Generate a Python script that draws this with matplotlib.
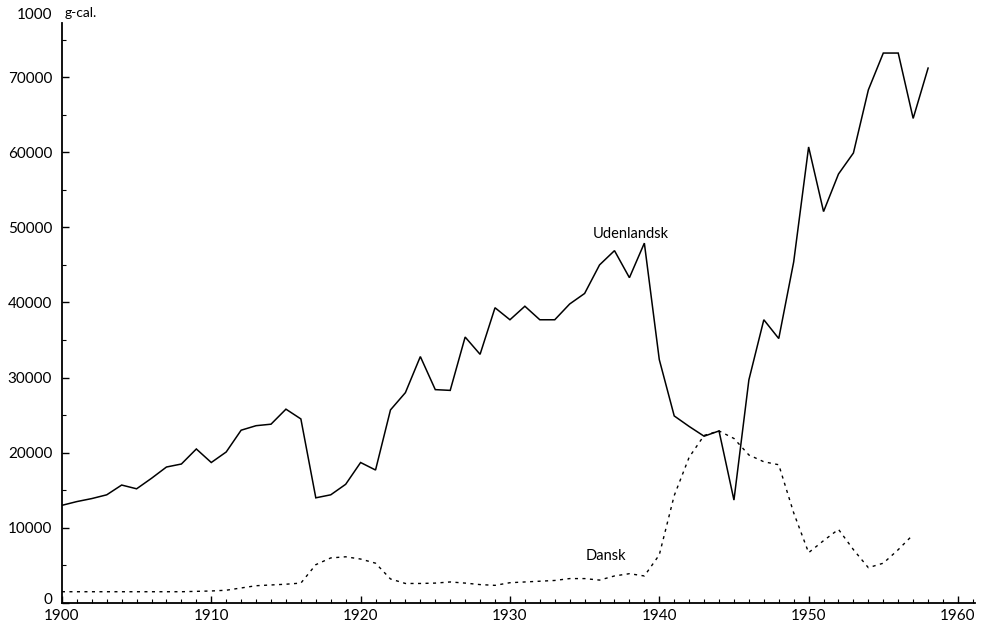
import matplotlib.pyplot as plt
import matplotlib.transforms as mtransforms
from matplotlib.ticker import MultipleLocator

plt.rcParams['font.family'] = ['Lato', 'DejaVu Sans']

# year values, 1000 g-cal.
years_udl = list(range(1900, 1959))
udenlandsk = [
    13000, 13500, 13900, 14400, 15700, 15200, 16600, 18100, 18500, 20500,
    18700, 20100, 23000, 23600, 23800, 25800, 24500, 14000, 14400, 15800,
    18700, 17700, 25700, 28000, 32800, 28400, 28300, 35400, 33100, 39300,
    37700, 39500, 37700, 37700, 39800, 41200, 45000, 46900, 43300, 47900,
    32400, 24900, 23500, 22200, 22900, 13700, 29700, 37700, 35200, 45400,
    60700, 52100, 57100, 59900, 68300, 73200, 73200, 64500, 71200,
]

years_dk = list(range(1900, 1958))
dansk = [
    1500, 1500, 1500, 1500, 1500, 1500, 1500, 1500, 1500, 1550,
    1600, 1700, 2000, 2300, 2400, 2500, 2650, 5100, 6000, 6150,
    5850, 5300, 3200, 2600, 2600, 2650, 2800, 2650, 2450, 2350,
    2700, 2800, 2900, 3000, 3250, 3250, 3050, 3600, 3900, 3600,
    6400, 14300, 19400, 22300, 22900, 21900, 19700, 18800, 18400, 12000,
    6700, 8300, 9800, 7100, 4700, 5300, 7100, 9100,
]

x_ticks = [1900, 1910, 1920, 1930, 1940, 1950, 1960]
y_ticks = [0, 10000, 20000, 30000, 40000, 50000, 60000, 70000]

fig = plt.figure(figsize=(9.83, 6.25), dpi=100)
ax = fig.add_axes([0.063, 0.0352, 0.929, 0.928])

ax.plot(years_udl, udenlandsk, color='black', lw=1.1, solid_joinstyle='miter')
ax.plot(years_dk, dansk, color='black', lw=1.0, linestyle=(0, (2.2, 3.2)))

ax.set_xlim(1900, 1961.15)
ax.set_ylim(0, 77200)

for side in ['top', 'right']:
    ax.spines[side].set_visible(False)
ax.spines['left'].set_linewidth(1.3)
ax.spines['bottom'].set_linewidth(1.3)

ax.set_xticks(x_ticks)
ax.set_yticks(y_ticks)
ax.xaxis.set_minor_locator(MultipleLocator(1))
ax.yaxis.set_minor_locator(MultipleLocator(5000))
ax.tick_params(axis='both', which='major', direction='in', length=5, width=1,
               labelsize=11)
ax.tick_params(axis='both', which='minor', direction='in', length=3, width=0.8)
ax.tick_params(axis='x', which='major', pad=4.5)
ax.tick_params(axis='y', which='major', pad=7)

# the "0" sits a little above the axis line in the original
zero_lab = ax.get_yticklabels()[0]
zero_lab.set_transform(zero_lab.get_transform() +
                       mtransforms.ScaledTranslation(0, 0.05, fig.dpi_scale_trans))

ax.text(1938.1, 48200, 'Udenlandsk', fontsize=10.5, ha='center', va='bottom')
ax.text(1936.4, 5300, 'Dansk', fontsize=10.5, ha='center', va='bottom')

fig.text(52 / 983, 1 - 15 / 625, '1000', fontsize=11, ha='right', va='center')
fig.text(65 / 983, 1 - 13 / 625, 'g-cal.', fontsize=10, ha='left', va='center')

fig.savefig('out.png', dpi=100)
